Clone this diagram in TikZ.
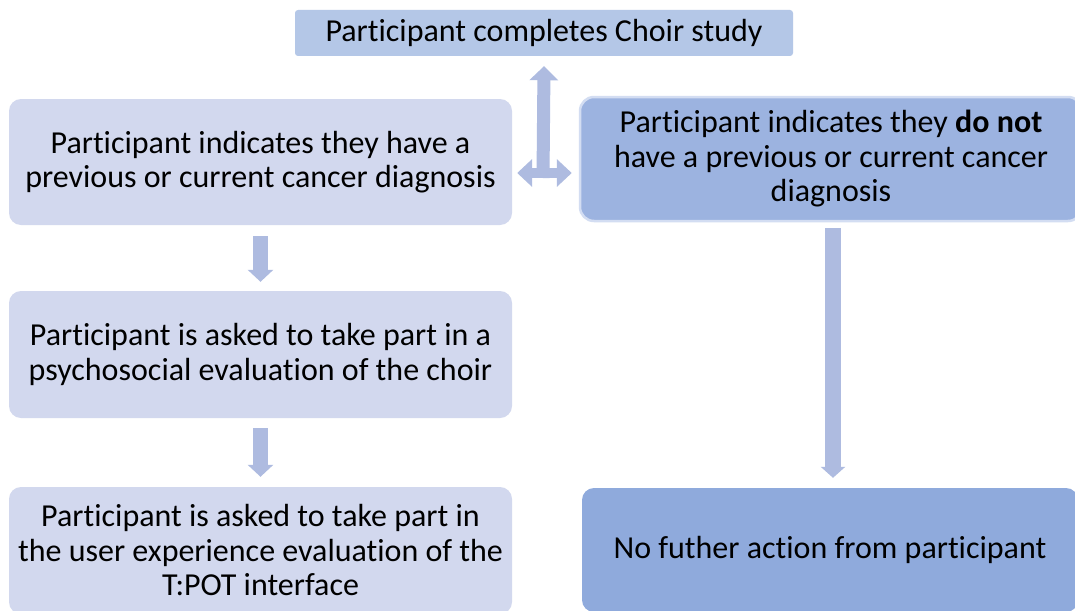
\documentclass[tikz,border=0pt]{standalone}
\usepackage{fontspec}
\setmainfont{Carlito}[Ligatures=NoCommon]
\usetikzlibrary{arrows.meta,calc}
\definecolor{topfill}{HTML}{B4C7E7}
\definecolor{leftfill}{HTML}{D2D8EE}
\definecolor{rightfill}{HTML}{9CB3E0}
\definecolor{rightedge}{HTML}{D3DDF2}
\definecolor{endfill}{HTML}{8FAADC}
\definecolor{arrowc}{HTML}{AEBBE0}
\begin{document}
\begin{tikzpicture}[x=1pt,y=-1pt,
  every node/.style={font=\fontsize{32}{34.5}\selectfont, align=center, inner sep=0pt},
  box/.style={rectangle, rounded corners=12pt, minimum width=503pt, minimum height=127pt},
  leftbox/.style={box, fill=leftfill},
  fat/.style={draw=arrowc, line width=15pt, -{Triangle[width=25pt,length=12pt]}}]
\useasboundingbox (0,0) rectangle (1075,610);
\clip (0,0) rectangle (1075,610);
\fill[white] (0,0) rectangle (1075,610);

% boxes
\node[rectangle, rounded corners=3pt, fill=topfill, minimum width=498pt, minimum height=46pt]
  (top) at (544,33) {Participant completes Choir study};
\node[leftbox, minimum height=126pt] (left1) at (260.5,162)
  {Participant indicates they have a\\previous or current cancer diagnosis};
\node[box, rounded corners=14pt, fill=rightfill, draw=rightedge, line width=2.5pt,
  minimum width=502pt, minimum height=124pt] (right1) at (831,159)
  {Participant indicates they \textbf{do not}\\have a previous or current cancer\\diagnosis};
\node[leftbox] (left2) at (260.5,354.5)
  {Participant is asked to take part in a\\psychosocial evaluation of the choir};
\node[leftbox] (left3) at (260.5,550.5)
  {Participant is asked to take part in\\the user experience evaluation of the\\T:POT interface};
\node[box, fill=endfill, minimum width=496pt, minimum height=124pt] (right2) at (830,550)
  {No futher action from participant};

% junction of the two-way arrow
\coordinate (jn) at (543,173);
\draw[fat, line width=13pt, {Triangle[width=28pt,length=14pt]}-]
  ($(top.south)+(0,10)$) -- ($(jn)+(0,5)$);
\draw[fat, line width=10pt, {Triangle[width=27pt,length=15pt]}-{Triangle[width=27pt,length=15pt]}]
  ($(jn -| left1.east)+(5,0)$) -- ($(jn -| right1.west)+(-7,0)$);

% downward arrows
\draw[fat] ($(left1.south)+(0,11)$) -- ($(left2.north)+(0,-9)$);
\draw[fat] ($(left2.south)+(0,10)$) -- ($(left3.north)+(0,-10)$);
\coordinate (rtop) at ($(right1.south)+(2,6)$);
\coordinate (rbot) at ($(rtop |- right2.north)+(0,-10)$);
\draw[fat, line width=16pt, -{Triangle[width=24pt,length=11pt]}] (rtop) -- (rbot);
\end{tikzpicture}
\end{document}
